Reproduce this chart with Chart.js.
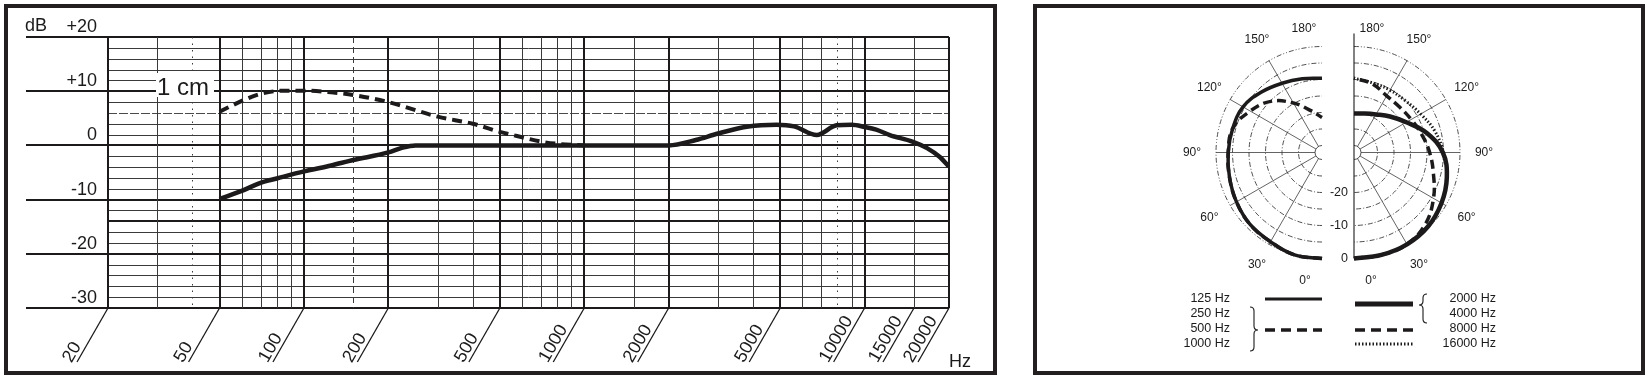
<!DOCTYPE html>
<html><head><meta charset="utf-8">
<script src="https://cdn.jsdelivr.net/npm/chart.js@4.4.1/dist/chart.umd.min.js"></script>
<style>
html,body{margin:0;padding:0;background:#fff;width:1652px;height:380px;overflow:hidden;}
.frame{position:absolute;border:4px solid #231f20;box-sizing:border-box;}
#f1{left:4px;top:4px;width:993px;height:371px;}
#f2{left:1033px;top:4px;width:612px;height:371px;}
canvas{position:absolute;top:0;}
#c1{left:0;}
#c2{left:1020px;}
</style></head><body>
<div class="frame" id="f1"></div><div class="frame" id="f2"></div>
<canvas id="c1" width="1000" height="380"></canvas>
<canvas id="c2" width="632" height="380"></canvas>
<script>
// ---------- frequency response data ----------
const freqTicks      = [20, 50, 100, 200, 500, 1000, 2000, 5000, 10000, 15000, 20000];
const freqTickLabels = ['20','50','100','200','500','1000','2000','5000','10000','15000','20000'];
const freqGrid       = [20,30,40,50,60,70,80,90,100,150,200,300,400,500,600,700,800,900,1000,1500,2000,3000,4000,5000,6000,7000,8000,9000,10000,15000,20000];
const dbTicks        = [20, 10, 0, -10, -20, -30];
const dbTickLabels   = ['+20', '+10', '0', '-10', '-20', '-30'];
const freqUnit = 'Hz';
const dbUnit = 'dB';

const farFreq = [50, 60, 70, 80, 100, 125, 150, 200, 225, 250, 300, 500, 1000, 2000, 2500, 3000, 3850, 4850, 5600, 6750, 7950, 9000, 10000, 11000, 12300, 14800, 16700, 18500, 20000];
const farDb   = [-9.9, -8.4, -6.9, -6.1, -4.8, -3.7, -2.7, -1.3, -0.4, 0, 0, 0, 0, 0, 1.0, 2.2, 3.5, 3.8, 3.5, 1.9, 3.7, 3.8, 3.4, 2.9, 1.9, 0.7, -0.5, -2.1, -3.9];

const nearLabel = '1 cm';
const nearFreq = [50, 60, 70, 85, 100, 125, 150, 200, 300, 400, 500, 600, 700, 800, 1000];
const nearDb   = [6.2, 8.2, 9.5, 10.1, 10.1, 9.8, 9.3, 8.0, 5.3, 4.0, 2.5, 1.5, 0.7, 0.3, 0];

// ---------- polar data (angle in degrees, level in dB) ----------
const polarAngles  = [0, 15, 30, 45, 60, 75, 90, 105, 120, 135, 150, 165, 180];
const db125        = [0, 0, -0.9, -1.3, -2.2, -3.1, -3.7, -4.1, -4.5, -6.2, -7.9, -9.0, -9.6];
const db250to1000  = [0, 0, -0.9, -1.3, -2.2, -3.1, -3.7, -4.1, -7.0, -10.2, -14.8, -19.0, -21.5];
const db2000to4000 = [0, 0, 0, -0.4, -1.5, -3.0, -5.2, -9.3, -13.8, -16.7, -18.8, -19.9, -20.3];
const db8000       = [0, 0, 0, -1.5, -4.3, -7.2, -9.2, -10.9, -12.1, -12.6, -12.3, -10.6, -9.6];
const db16000      = [0, 0, 0, -0.4, -1.5, -3.0, -5.0, -6.8, -8.8, -10.0, -10.3, -10.3, -9.6];
const polarRings       = [0, -5, -10, -15, -20, -25];
const polarInnerRing   = -30;
const polarSpokes      = [30, 60, 90, 120, 150];
const polarAngleTicks  = [0, 30, 60, 90, 120, 150, 180];
const polarAngleLabels = ['0°', '30°', '60°', '90°', '120°', '150°', '180°'];
const polarDbTicks     = [0, -10, -20];
const polarDbLabels    = ['0', '-10', '-20'];
const legendLeftLabels  = ['125 Hz', '250 Hz', '500 Hz', '1000 Hz'];
const legendRightLabels = ['2000 Hz', '4000 Hz', '8000 Hz', '16000 Hz'];

// ---------- styles / layout ----------
const INK = '#1c1a1b';
const FONT = '"Liberation Sans", Arial, Helvetica, sans-serif';
const HEAVY_DB = [-14];
const LIGHT_DB = [6];

function pts(xs, ys){ return xs.map((v,i)=>({x:v, y:ys[i]})); }

const respPlugin = {
  id:'resp',
  beforeDatasetsDraw(chart){
    const {ctx, chartArea:a, scales:{x, y}} = chart;
    ctx.save();
    ctx.strokeStyle = INK;
    for (let v = -30; v <= 20; v += 2){
      const py = Math.round(y.getPixelForValue(v));
      const major = (v % 10 === 0);
      const heavy = major || HEAVY_DB.includes(v);
      const light = LIGHT_DB.includes(v);
      ctx.setLineDash(light ? [9,2] : []);
      ctx.lineWidth = heavy ? 2 : 1;
      ctx.strokeStyle = heavy ? INK : (light ? '#4a4a4a' : '#3a3a3a');
      ctx.beginPath();
      ctx.moveTo(major ? 26 : a.left, py + (heavy?0:0.5));
      ctx.lineTo(a.right, py + (heavy?0:0.5));
      ctx.stroke();
    }
    freqGrid.forEach(f=>{
      const px = Math.round(x.getPixelForValue(f));
      const major = freqTicks.includes(f) && f !== 15000;
      ctx.lineWidth = major ? 2 : 1;
      ctx.strokeStyle = major ? INK : '#3a3a3a';
      if (f === 40 || f === 8000) ctx.setLineDash([1.5, 5]);
      else if (f === 150) ctx.setLineDash([6, 4]);
      else ctx.setLineDash([]);
      ctx.beginPath();
      ctx.moveTo(px + (major?0:0.5), a.top);
      ctx.lineTo(px + (major?0:0.5), a.bottom);
      ctx.stroke();
    });
    ctx.setLineDash([]);
    ctx.fillStyle = '#fff';
    ctx.fillRect(156, 73, 58, 24);
    ctx.restore();
  },
  afterDraw(chart){
    const {ctx, chartArea:a, scales:{x, y}} = chart;
    ctx.save();
    ctx.fillStyle = INK;
    ctx.strokeStyle = INK;
    ctx.font = '18px ' + FONT;
    ctx.textAlign = 'right';
    ctx.textBaseline = 'alphabetic';
    dbTicks.forEach((v,i)=>{
      ctx.fillText(dbTickLabels[i], 97, y.getPixelForValue(v) - 5);
    });
    ctx.textAlign = 'left';
    ctx.fillText(dbUnit, 25, y.getPixelForValue(20) - 6);
    const dx = -31, dy = 54;
    const ang = Math.atan2(-dy, -dx);
    freqTicks.forEach((f,i)=>{
      const px = x.getPixelForValue(f);
      const bx = px + dx, by = a.bottom + dy;
      ctx.lineWidth = 1.3;
      ctx.beginPath();
      ctx.moveTo(px, a.bottom);
      ctx.lineTo(bx, by);
      ctx.stroke();
      ctx.save();
      ctx.translate(bx, by);
      ctx.rotate(ang);
      ctx.textAlign = 'left';
      ctx.textBaseline = 'alphabetic';
      ctx.fillText(freqTickLabels[i], -4, -4);
      ctx.restore();
    });
    ctx.textAlign = 'left';
    ctx.fillText(freqUnit, 949, 367);
    ctx.font = '24px ' + FONT;
    ctx.fillText(nearLabel, 157, 95);
    ctx.restore();
  }
};

new Chart(document.getElementById('c1'), {
  type:'line',
  data:{datasets:[
    {label:'far field', data:pts(farFreq, farDb), borderColor:INK, borderWidth:4.5, pointRadius:0, cubicInterpolationMode:'monotone', fill:false, borderCapStyle:'butt'},
    {label:nearLabel, data:pts(nearFreq, nearDb), borderColor:INK, borderWidth:4, borderDash:[10,6], pointRadius:0, cubicInterpolationMode:'monotone', fill:false, borderCapStyle:'butt'}
  ]},
  options:{
    responsive:false, animation:false, events:[],
    layout:{padding:{left:108, right:51, top:37, bottom:72}},
    plugins:{legend:{display:false}, tooltip:{enabled:false}},
    scales:{
      x:{type:'logarithmic', min:20, max:20000, display:false},
      y:{type:'linear', min:-30, max:20, display:false}
    }
  },
  plugins:[respPlugin]
});

// ---------- polar chart ----------
const PX_PER_DB = 3.3;
const CENTER_DB = -106 / 3.3;
const HALF_GAP = 16 / 3.3;
const C2_W = 632, C2_H = 380, C2_CX = 318, C2_CY = 152.5;
function rho(db){ return db - CENTER_DB; }
function polarPts(dbs, side){
  return polarAngles.map((a,i)=>{
    const t = a*Math.PI/180, r = rho(dbs[i]);
    return {x: side*HALF_GAP + side*r*Math.sin(t), y: -r*Math.cos(t)};
  });
}

const polarPlugin = {
  id:'polar',
  beforeDatasetsDraw(chart){
    const {ctx, scales:{x, y}} = chart;
    const k = x.getPixelForValue(1) - x.getPixelForValue(0);
    const cy = y.getPixelForValue(0);
    ctx.save();
    [-1, 1].forEach(side=>{
      const cx = x.getPixelForValue(side*HALF_GAP);
      const a0 = side < 0 ? Math.PI/2 : -Math.PI/2;
      const a1 = side < 0 ? 3*Math.PI/2 : Math.PI/2;
      ctx.strokeStyle = '#3c3c3c';
      ctx.lineWidth = 0.9;
      polarRings.forEach(d=>{
        ctx.setLineDash(d === 0 ? [5,2,1,2,1,2] : [5,2,1,2]);
        ctx.beginPath();
        ctx.arc(cx, cy, rho(d)*k, a0, a1);
        ctx.stroke();
      });
      ctx.setLineDash([]);
      ctx.beginPath();
      ctx.arc(cx, cy, rho(polarInnerRing)*k, a0, a1);
      ctx.stroke();
      ctx.lineWidth = 0.8;
      polarSpokes.forEach(s=>{
        const t = s*Math.PI/180;
        const r0 = rho(polarInnerRing)*k, r1 = rho(0)*k;
        ctx.beginPath();
        ctx.moveTo(cx + side*r0*Math.sin(t), cy + r0*Math.cos(t));
        ctx.lineTo(cx + side*r1*Math.sin(t), cy + r1*Math.cos(t));
        ctx.stroke();
      });
      ctx.fillStyle = INK;
      ctx.font = '12px ' + FONT;
      ctx.textAlign = 'center';
      ctx.textBaseline = 'middle';
      const rl = rho(0)*k + 24;
      polarAngleTicks.forEach((t,i)=>{
        let lx, ly;
        if (t === 0){ lx = cx + side*17; ly = cy + rho(0)*k + 22; }
        else if (t === 180){ lx = cx + side*18; ly = cy - rho(0)*k - 18; }
        else { const r = t*Math.PI/180; lx = cx + side*rl*Math.sin(r); ly = cy + rl*Math.cos(r); }
        ctx.fillText(polarAngleLabels[i], lx, ly);
      });
    });
    const cxR = x.getPixelForValue(HALF_GAP);
    ctx.strokeStyle = INK;
    ctx.lineWidth = 1.1;
    ctx.beginPath();
    ctx.moveTo(cxR, cy - rho(0)*k - 13);
    ctx.lineTo(cxR, cy + rho(0)*k);
    ctx.stroke();
    ctx.font = '12.5px ' + FONT;
    ctx.textAlign = 'right';
    ctx.textBaseline = 'middle';
    polarDbTicks.forEach((d,i)=>{
      ctx.fillText(polarDbLabels[i], cxR - 6, cy + rho(d)*k);
    });
    ctx.restore();
  },
  afterDraw(chart){
    const {ctx} = chart;
    const ox = -1020;
    ctx.save();
    ctx.fillStyle = INK; ctx.strokeStyle = INK;
    ctx.font = '12.5px ' + FONT;
    ctx.textAlign = 'right'; ctx.textBaseline = 'middle';
    const rows = [299, 314, 329, 344];
    legendLeftLabels.forEach((t,i)=> ctx.fillText(t, 1230 + ox, rows[i]));
    legendRightLabels.forEach((t,i)=> ctx.fillText(t, 1496 + ox, rows[i]));
    function seg(x0, x1, yy, w, dash){
      ctx.lineWidth = w; ctx.setLineDash(dash); ctx.lineCap = 'butt';
      ctx.beginPath(); ctx.moveTo(x0 + ox, yy); ctx.lineTo(x1 + ox, yy); ctx.stroke();
    }
    seg(1265, 1322, 299, 3, []);
    seg(1265, 1322, 330, 3.5, [10,6]);
    seg(1355, 1413, 304, 5, []);
    seg(1355, 1413, 330, 3.5, [10,6]);
    seg(1355, 1413, 344, 3, [1.5,2]);
    ctx.setLineDash([]);
    function brace(xx, y1, y2, ym, dir){
      const w = 4;
      xx += ox;
      ctx.lineWidth = 1.1;
      ctx.beginPath();
      ctx.moveTo(xx - dir*w, y1);
      ctx.quadraticCurveTo(xx, y1, xx, y1 + w);
      ctx.lineTo(xx, ym - w);
      ctx.quadraticCurveTo(xx, ym, xx + dir*w, ym);
      ctx.quadraticCurveTo(xx, ym, xx, ym + w);
      ctx.lineTo(xx, y2 - w);
      ctx.quadraticCurveTo(xx, y2, xx - dir*w, y2);
      ctx.stroke();
    }
    brace(1254, 307, 351, 330, 1);
    brace(1423, 294, 323, 305, -1);
    ctx.restore();
  }
};

const pd = (data, opt)=> Object.assign({data, showLine:true, pointRadius:0, borderColor:INK, tension:0.4, fill:false, borderCapStyle:'butt'}, opt);
new Chart(document.getElementById('c2'), {
  type:'scatter',
  data:{datasets:[
    pd(polarPts(db125, -1),        {label:'125 Hz', borderWidth:3.5}),
    pd(polarPts(db250to1000, -1),  {label:'250-1000 Hz', borderWidth:3.5, borderDash:[9,5]}),
    pd(polarPts(db2000to4000, 1),  {label:'2000-4000 Hz', borderWidth:4.5}),
    pd(polarPts(db8000, 1),        {label:'8000 Hz', borderWidth:3.5, borderDash:[9,5]}),
    pd(polarPts(db16000, 1),       {label:'16000 Hz', borderWidth:3, borderDash:[1.5,2]})
  ]},
  options:{
    responsive:false, animation:false, events:[],
    layout:{padding:0},
    plugins:{legend:{display:false}, tooltip:{enabled:false}},
    scales:{
      x:{type:'linear', min:-C2_CX/PX_PER_DB, max:(C2_W-C2_CX)/PX_PER_DB, display:false},
      y:{type:'linear', min:-(C2_H-C2_CY)/PX_PER_DB, max:C2_CY/PX_PER_DB, display:false}
    }
  },
  plugins:[polarPlugin]
});
</script></body></html>
